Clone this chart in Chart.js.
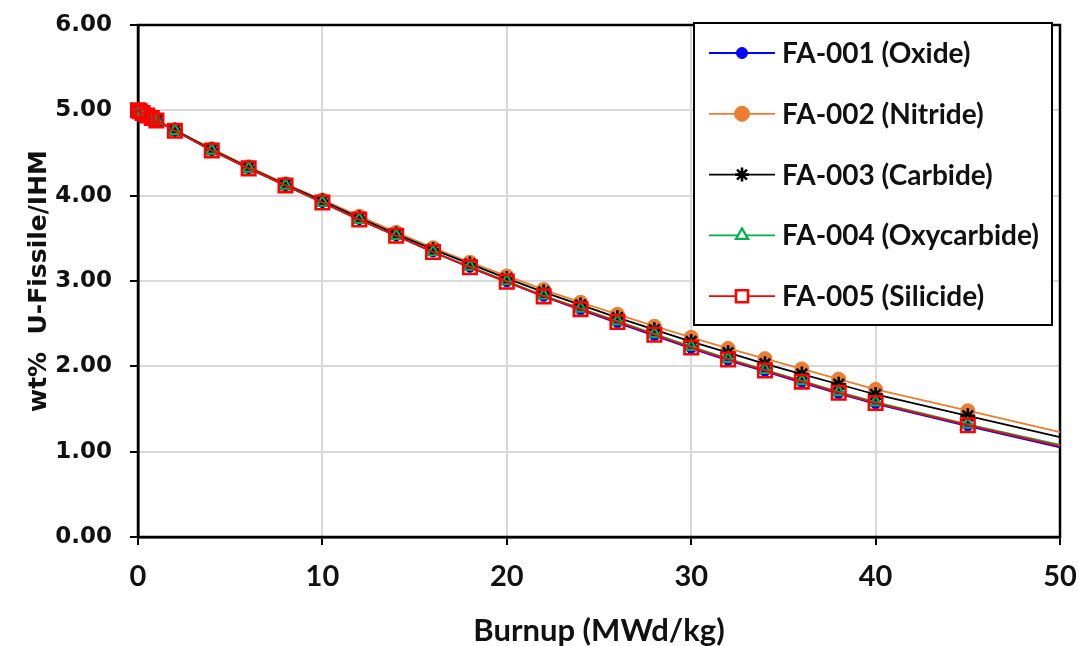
<!DOCTYPE html>
<html>
<head>
<meta charset="utf-8">
<script src="https://cdn.jsdelivr.net/npm/chart.js@4.4.1/dist/chart.umd.min.js"></script>
<style>
  html, body { margin: 0; padding: 0; background: #fff; }
  #wrap { width: 1079px; height: 646px; }
</style>
</head>
<body>
<div id="wrap"><canvas id="burnup-chart" width="1079" height="646"></canvas></div>
<script>
// burnup steps (MWd/kg)
const burnup = [0, 0.1, 0.25, 0.5, 0.75, 1, 2, 4, 6, 8, 10, 12, 14, 16, 18, 20, 22, 24, 26, 28, 30, 32, 34, 36, 38, 40, 45, 50];

// wt% U-fissile / IHM for each fuel assembly
const oxide      = [5.00, 4.99, 4.97, 4.94, 4.91, 4.88, 4.76, 4.53, 4.32, 4.12, 3.92, 3.72, 3.53, 3.34, 3.16, 2.99, 2.82, 2.66, 2.51, 2.36, 2.21, 2.07, 1.94, 1.81, 1.68, 1.56, 1.30, 1.05];
const nitride    = [5.00, 4.99, 4.97, 4.94, 4.91, 4.88, 4.77, 4.55, 4.34, 4.14, 3.95, 3.76, 3.57, 3.39, 3.22, 3.06, 2.90, 2.75, 2.61, 2.47, 2.34, 2.21, 2.09, 1.97, 1.85, 1.73, 1.48, 1.23];
const carbide    = [5.00, 4.99, 4.97, 4.94, 4.91, 4.88, 4.77, 4.54, 4.33, 4.13, 3.94, 3.74, 3.55, 3.37, 3.20, 3.03, 2.87, 2.72, 2.57, 2.43, 2.29, 2.16, 2.03, 1.91, 1.79, 1.67, 1.42, 1.17];
const oxycarbide = [5.00, 4.99, 4.97, 4.94, 4.91, 4.88, 4.76, 4.53, 4.32, 4.12, 3.92, 3.72, 3.53, 3.34, 3.17, 3.00, 2.83, 2.68, 2.53, 2.38, 2.23, 2.09, 1.96, 1.83, 1.70, 1.58, 1.32, 1.08];
const silicide   = [5.00, 4.99, 4.97, 4.94, 4.91, 4.88, 4.76, 4.53, 4.32, 4.12, 3.92, 3.72, 3.53, 3.34, 3.16, 2.99, 2.82, 2.67, 2.52, 2.37, 2.22, 2.08, 1.95, 1.82, 1.69, 1.57, 1.31, 1.065];

const seriesNames = ['FA-001 (Oxide)', 'FA-002 (Nitride)', 'FA-003 (Carbide)', 'FA-004 (Oxycarbide)', 'FA-005 (Silicide)'];
const yTicks = [0, 1, 2, 3, 4, 5, 6];
const xTicks = [0, 10, 20, 30, 40, 50];

const lastMarkerX = 45; // no marker drawn past this burnup

function toPoints(values) {
  return burnup.map((b, i) => ({ x: b, y: values[i] }));
}

function markerSize(r) {
  return (c) => (c.raw && c.raw.x > lastMarkerX ? 0 : r);
}

function makeSeries(label, values, color, style, radius, fill, order, legendRadius, markerWidth) {
  return {
    label: label,
    data: toPoints(values),
    borderColor: color,
    borderWidth: 1.8,
    tension: 0,
    pointStyle: style,
    pointRadius: markerSize(radius),
    pointBackgroundColor: fill,
    pointBorderColor: color,
    pointBorderWidth: markerWidth,
    order: order,
    clip: false,
    legendRadius: legendRadius,
  };
}

const datasets = [
  makeSeries(seriesNames[0], oxide, '#0000ff', 'circle', 5, '#0000ff', 4, 5.5, 1),
  makeSeries(seriesNames[1], nitride, '#ed7d31', 'circle', 7, '#ed7d31', 5, 7.5, 1),
  makeSeries(seriesNames[2], carbide, '#000000', 'star', 7.5, '#000000', 3, 7, 2.6),
  makeSeries(seriesNames[3], oxycarbide, '#00b050', 'triangle', 6.5, 'rgba(0,0,0,0)', 2, 7, 2.2),
  makeSeries(seriesNames[4], silicide, '#ff0000', 'rect', 9.5, 'rgba(0,0,0,0)', 1, 8.5, 2.6),
];

// black frame round the plot area
const plotFrame = {
  id: 'plotFrame',
  beforeDatasetsDraw(chart) {
    const a = chart.chartArea;
    const ctx = chart.ctx;
    ctx.save();
    ctx.strokeStyle = '#000';
    ctx.lineWidth = 2.5;
    ctx.strokeRect(a.left, a.top, a.right - a.left, a.bottom - a.top);
    ctx.restore();
  },
};

// boxed legend inside the plot, top right
const legendBox = {
  id: 'legendBox',
  afterDatasetsDraw(chart) {
    const a = chart.chartArea;
    const ctx = chart.ctx;
    const x0 = a.right - 366;
    const y0 = a.top - 2;
    const w = 358;
    const h = 302;
    ctx.save();
    ctx.fillStyle = '#fff';
    ctx.fillRect(x0, y0, w, h);
    ctx.lineWidth = 2;
    ctx.strokeStyle = '#000';
    ctx.strokeRect(x0, y0, w, h);

    chart.data.datasets.forEach((ds, i) => {
      const cy = y0 + 30 + i * 60.8;
      ctx.strokeStyle = ds.borderColor;
      ctx.lineWidth = ds.borderWidth;
      ctx.beginPath();
      ctx.moveTo(x0 + 15, cy);
      ctx.lineTo(x0 + 81, cy);
      ctx.stroke();

      ctx.fillStyle = ds.pointStyle === 'circle' || ds.pointStyle === 'star' ? ds.pointBackgroundColor : '#fff';
      ctx.strokeStyle = ds.pointBorderColor;
      ctx.lineWidth = ds.pointBorderWidth;
      Chart.helpers.drawPoint(ctx, {
        pointStyle: ds.pointStyle,
        radius: ds.legendRadius,
        borderWidth: ds.pointBorderWidth,
        rotation: 0,
      }, x0 + 48, cy);

      ctx.fillStyle = '#111';
      ctx.font = 'bold 28px Lato, "Open Sans", sans-serif';
      ctx.textBaseline = 'middle';
      ctx.textAlign = 'left';
      ctx.fillText(ds.label, x0 + 88, cy + 1);
    });
    ctx.restore();
  },
};

const ctx = document.getElementById('burnup-chart').getContext('2d');

// eslint-disable-next-line no-undef,no-unused-vars
const chart = new Chart(ctx, {
  type: 'line',
  data: { datasets: datasets },
  options: {
    responsive: false,
    animation: false,
    events: [],
    layout: { autoPadding: false, padding: { left: 0, right: 19, top: 25, bottom: 0 } },
    plugins: {
      legend: { display: false },
      tooltip: { enabled: false },
    },
    scales: {
      x: {
        type: 'linear',
        min: 0,
        max: 50,
        afterBuildTicks: (scale) => { scale.ticks = xTicks.map((v) => ({ value: v })); },
        afterFit: (scale) => {
          scale.height = 109;
          scale.paddingLeft = 0;
          scale.paddingRight = 0;
        },
        ticks: {
          color: '#111',
          padding: 14,
          maxRotation: 0,
          font: { family: 'Lato, sans-serif', size: 29, weight: 'bold' },
        },
        grid: {
          color: '#d9d9d9',
          lineWidth: 2,
          tickColor: '#000',
          tickLength: 8,
          tickWidth: 2,
        },
        border: { color: '#000', width: 2.5 },
        title: {
          display: true,
          text: 'Burnup (MWd/kg)',
          color: '#111',
          padding: { top: 0, bottom: 0 },
          font: { family: 'Lato, sans-serif', size: 31, weight: 'bold', lineHeight: 1 },
        },
      },
      y: {
        type: 'linear',
        min: 0,
        max: 6,
        afterBuildTicks: (scale) => { scale.ticks = yTicks.map((v) => ({ value: v })); },
        afterFit: (scale) => {
          scale.width = 138;
          scale.paddingTop = 0;
          scale.paddingBottom = 0;
        },
        ticks: {
          color: '#111',
          padding: 18,
          callback: (v) => Number(v).toFixed(2),
          font: { family: '"DejaVu Sans", sans-serif', size: 23, weight: 'bold' },
        },
        grid: {
          color: '#d9d9d9',
          lineWidth: 2,
          tickColor: '#000',
          tickLength: 8,
          tickWidth: 2,
        },
        border: { color: '#000', width: 2.5 },
        title: {
          display: true,
          text: 'wt%  U-Fissile/IHM',
          color: '#111',
          padding: { top: 24, bottom: 0 },
          font: { family: '"DejaVu Sans", sans-serif', size: 25, weight: 'bold', lineHeight: 1.2 },
        },
      },
    },
  },
  plugins: [plotFrame, legendBox],
});
</script>
</body>
</html>
